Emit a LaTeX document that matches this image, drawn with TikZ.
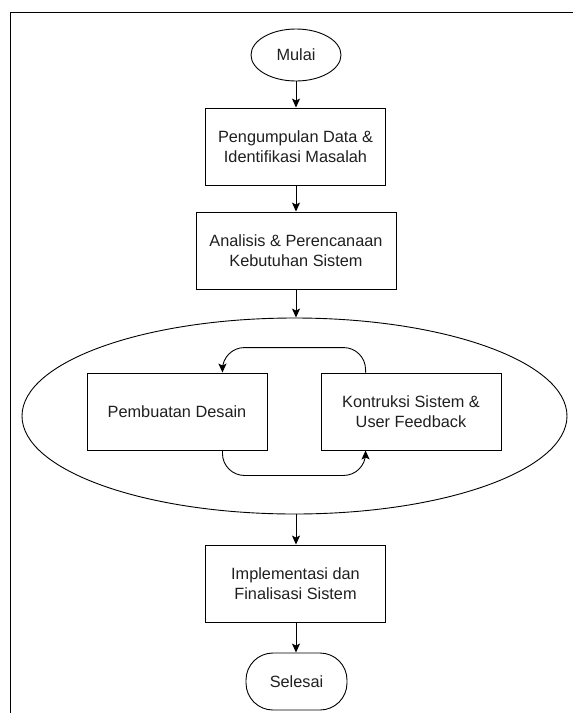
\documentclass[tikz,border=0pt]{standalone}
\usepackage{fontspec}
\setmainfont{Liberation Sans}
\usetikzlibrary{arrows.meta,shapes.geometric}
\begin{document}
\begin{tikzpicture}[x=1pt,y=-1pt,
  line width=0.9pt,
  every node/.style={font=\fontsize{16.3}{20.5}\selectfont, text=black!88},
  box/.style={draw, rectangle, align=center, inner sep=0pt},
  arr/.style={-{Stealth[length=9pt,width=8pt,inset=2pt]}}]
\useasboundingbox (0,0) rectangle (573,713);
\draw[line width=0.8pt] (10,713) -- (10,12) -- (573,12);
\node[draw, ellipse, minimum width=90pt, minimum height=52pt, inner sep=0pt] (mulai) at (296,55) {Mulai};
\node[box, minimum width=180pt, minimum height=77pt] (b1) at (295.5,146.5) {Pengumpulan Data \&\\Identifikasi Masalah};
\node[box, minimum width=200pt, minimum height=77pt] (b2) at (296,250.5) {Analisis \& Perencanaan\\Kebutuhan Sistem};
\node[draw, ellipse, minimum width=545pt, minimum height=196pt, inner sep=0pt] (el) at (294.5,416) {};
\node[box, minimum width=180pt, minimum height=77pt] (b3) at (177,411.5) {Pembuatan Desain};
\node[box, minimum width=180pt, minimum height=77pt] (b4) at (411,411.5) {Kontruksi Sistem \&\\User Feedback};
\node[box, minimum width=180pt, minimum height=77pt] (b5) at (295.5,583.5) {Implementasi dan\\Finalisasi Sistem};
\node[draw, rectangle, rounded corners=27pt, minimum width=101pt, minimum height=57pt, inner sep=0pt] (selesai) at (296.5,681.5) {Selesai};
\draw[arr] (mulai.south) -- (mulai.south |- b1.north);
\draw[arr] (b1.south -| mulai.south) -- (mulai.south |- b2.north);
\draw[arr] (b2.south -| mulai.south) -- (mulai.south |- el.north);
\draw[arr] (el.south -| mulai.south) -- (mulai.south |- b5.north);
\draw[arr] (b5.south -| mulai.south) -- (mulai.south |- selesai.north);
\coordinate (t4) at ([xshift=45pt]b4.north west);
\coordinate (t3) at ([xshift=-45pt]b3.north east);
\coordinate (s3) at ([xshift=-45pt]b3.south east);
\coordinate (s4) at ([xshift=45pt]b4.south west);
\draw[arr, rounded corners=22pt] (t4) -- ++(0,-25) -| (t3);
\draw[arr, rounded corners=22pt] (s3) -- ++(0,25) -| (s4);
\end{tikzpicture}
\end{document}
